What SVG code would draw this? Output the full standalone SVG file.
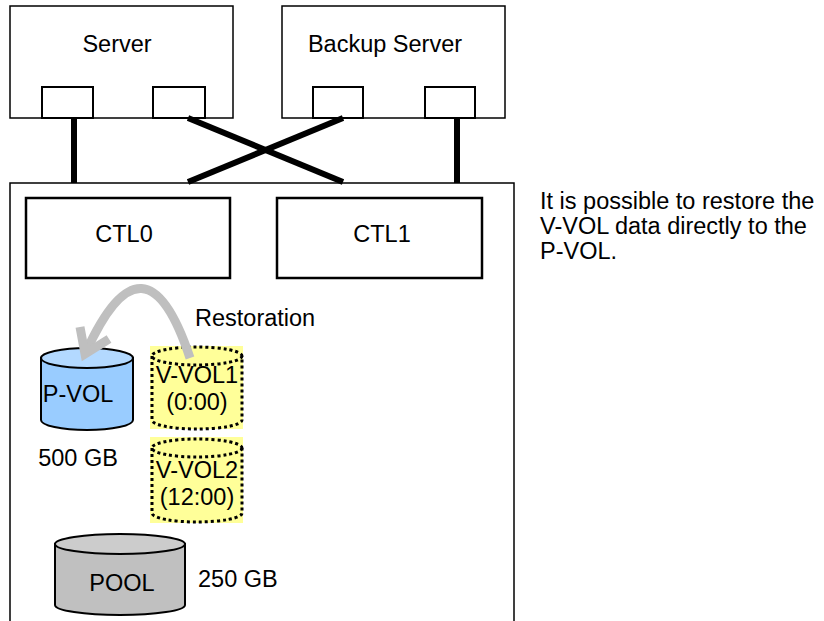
<svg xmlns="http://www.w3.org/2000/svg" width="824" height="621" viewBox="0 0 824 621">
<defs>
<style>
text{font-family:"Liberation Sans",Arial,sans-serif;font-size:23.5px;fill:#000}
.c{text-anchor:middle}
.box{fill:#fff;stroke:#000;stroke-width:1.5}
.port{fill:#fff;stroke:#000;stroke-width:2}
.ctl{fill:#fff;stroke:#000;stroke-width:2.5}
.link{stroke:#000;stroke-width:6;fill:none}
.dot{fill:none;stroke:#000;stroke-width:3;stroke-dasharray:3 3}
.hl{fill:#FFFF99}
.arr{fill:none;stroke:#BFBFBF;stroke-width:9}
</style>
</defs>
<rect width="824" height="621" fill="#fff"/>
<g id="storage">
<rect class="box" x="10" y="183" width="504" height="460"/>
</g>
<g id="server">
<rect class="box" x="10" y="6" width="223" height="112"/>
<rect class="port" x="42" y="87" width="51" height="31"/>
<rect class="port" x="153" y="87" width="52" height="31"/>
<text class="c" x="117" y="52">Server</text>
</g>
<g id="backup-server">
<rect class="box" x="282" y="6" width="223" height="112"/>
<rect class="port" x="313" y="87" width="50" height="31"/>
<rect class="port" x="425" y="87" width="50" height="31"/>
<text class="c" x="385" y="52">Backup Server</text>
</g>
<g id="connectors">
<line class="link" x1="74" y1="118" x2="74" y2="183"/>
<line class="link" x1="457" y1="118" x2="457" y2="183"/>
<line class="link" x1="188" y1="118" x2="343" y2="182"/>
<line class="link" x1="343" y1="118" x2="188" y2="182"/>
</g>
<g id="ctl0">
<rect class="ctl" x="26" y="198" width="204" height="80"/>
<text class="c" x="124" y="242">CTL0</text>
</g>
<g id="ctl1">
<rect class="ctl" x="277" y="198" width="205" height="80"/>
<text class="c" x="382" y="242">CTL1</text>
</g>
<g id="pvol">
<path d="M41,358 L41,420 A46,10 0 0 0 133,420 L133,358 Z" fill="#99CCFF" stroke="#000" stroke-width="2"/>
<ellipse cx="87" cy="358" rx="46" ry="10" fill="#B3D9FF" stroke="#000" stroke-width="2"/>
<text class="c" x="78" y="402">P-VOL</text>
<text class="c" x="78" y="466">500 GB</text>
</g>
<g id="vvol1">
<rect class="hl" x="150" y="346" width="93" height="83"/>
<ellipse class="dot" cx="197" cy="356" rx="45" ry="9"/>
<path class="dot" d="M152,356 L152,420 A45,9 0 0 0 242,420 L242,356"/>
<text class="c" x="197" y="383">V-VOL1</text>
<text class="c" x="197" y="410">(0:00)</text>
</g>
<g id="vvol2">
<rect class="hl" x="150" y="437" width="93" height="86"/>
<ellipse class="dot" cx="197" cy="448" rx="45" ry="9"/>
<path class="dot" d="M152,448 L152,513 A45,9 0 0 0 242,513 L242,448"/>
<text class="c" x="197" y="478">V-VOL2</text>
<text class="c" x="197" y="505">(12:00)</text>
</g>
<g id="pool">
<path d="M55,544 L55,605 A65,10 0 0 0 185,605 L185,544 Z" fill="#C0C0C0" stroke="#000" stroke-width="2"/>
<ellipse cx="120" cy="544" rx="65" ry="10" fill="#CCCCCC" stroke="#000" stroke-width="2"/>
<text class="c" x="122" y="591">POOL</text>
<text x="198" y="587">250 GB</text>
</g>
<g id="restoration">
<path class="arr" d="M190,358 Q145,222 86,352"/>
<polyline class="arr" points="80,327 85,354 109,339"/>
<text x="195" y="326">Restoration</text>
</g>
<g id="note">
<text x="540" y="209">It is possible to restore the</text>
<text x="540" y="234">V-VOL data directly to the</text>
<text x="540" y="259">P-VOL.</text>
</g>
</svg>
